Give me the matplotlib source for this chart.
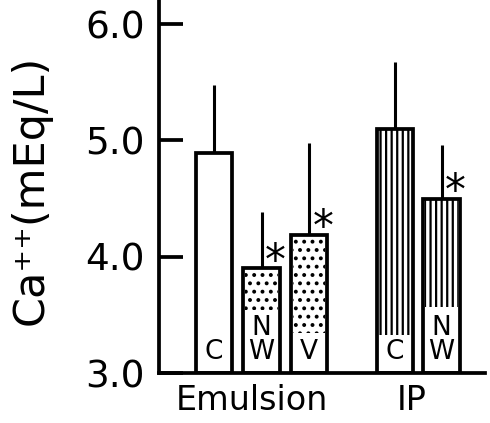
import matplotlib
matplotlib.use("Agg")
import matplotlib.pyplot as plt
import numpy as np

# ---- data ----
groups = ["Emulsion", "IP"]
bar_labels = ["C", "N\nW", "V", "C", "N\nW"]
means = [4.89, 3.90, 4.19, 5.10, 4.50]
sd_upper = [0.59, 0.48, 0.79, 0.57, 0.46]
significant = [False, True, True, False, True]
texture_from = [None, 3.54, 3.34, 3.33, 3.57]   # where stipple/hatching begins
textures = [None, "..", "..", "|||", "|||"]
y_ticks = [3.0, 4.0, 5.0, 6.0]
y_tick_labels = ["3.0", "4.0", "5.0", "6.0"]

plt.rcParams["font.family"] = ["DejaVu Sans"]
plt.rcParams["hatch.linewidth"] = 1.6

fig = plt.figure(figsize=(4.9, 4.23), dpi=100)
ax = fig.add_axes([0.3245, 0.1182, 0.6653, 0.8818])

pos = np.array([0.0, 1.0, 2.0, 3.81, 4.79])
width = 0.76
base = 3.0
lw = 2.7

# white bar bodies
ax.bar(pos, np.array(means) - base, bottom=base, width=width,
       color="white", edgecolor="none", zorder=2)
# textures
for p, m, tf, h in zip(pos, means, texture_from, textures):
    if h is None:
        continue
    ax.bar(p, m - tf, bottom=tf, width=width * 0.9, color="white",
           edgecolor="black", linewidth=0, hatch=h, zorder=3)
# error bars (upper only)
ax.errorbar(pos, means, yerr=[np.zeros(len(means)), sd_upper], fmt="none",
            ecolor="black", elinewidth=2.2, capsize=0, zorder=4)
# outlines
ax.bar(pos, np.array(means) - base, bottom=base, width=width, fill=False,
       edgecolor="black", linewidth=lw, zorder=5)

# letters inside bars
for p, lab in zip(pos, bar_labels):
    ax.annotate(lab, xy=(p, base), xytext=(0, 6), textcoords="offset points",
                ha="center", va="bottom", fontsize=19, linespacing=0.9,
                zorder=6)

# asterisks
for p, m, s in zip(pos, means, significant):
    if s:
        ax.annotate("*", xy=(p, m), xytext=(10, -4), textcoords="offset points",
                    ha="center", va="baseline", fontsize=30,
                    zorder=6)

ax.set_xlim(-1.158, 5.705)
ax.set_ylim(3.0, 6.207)
ax.set_yticks(y_ticks, y_tick_labels)
ax.set_xticks([])
ax.tick_params(axis="y", direction="in", length=17, width=lw, pad=10,
               labelsize=27)
for sp in ["top", "right"]:
    ax.spines[sp].set_visible(False)
for sp in ["left", "bottom"]:
    ax.spines[sp].set_linewidth(lw)

# group labels
group_x = [0.8, 4.17]
for gx, g in zip(group_x, groups):
    ax.text(gx, -0.099, g, transform=ax.get_xaxis_transform(), ha="center",
            va="baseline", fontsize=24)

ax.set_ylabel("Ca\u207a\u207a(mEq/L)", fontsize=31)
ax.yaxis.set_label_coords(-0.33, 0.49)

fig.savefig("out.png", dpi=100, facecolor="white")
